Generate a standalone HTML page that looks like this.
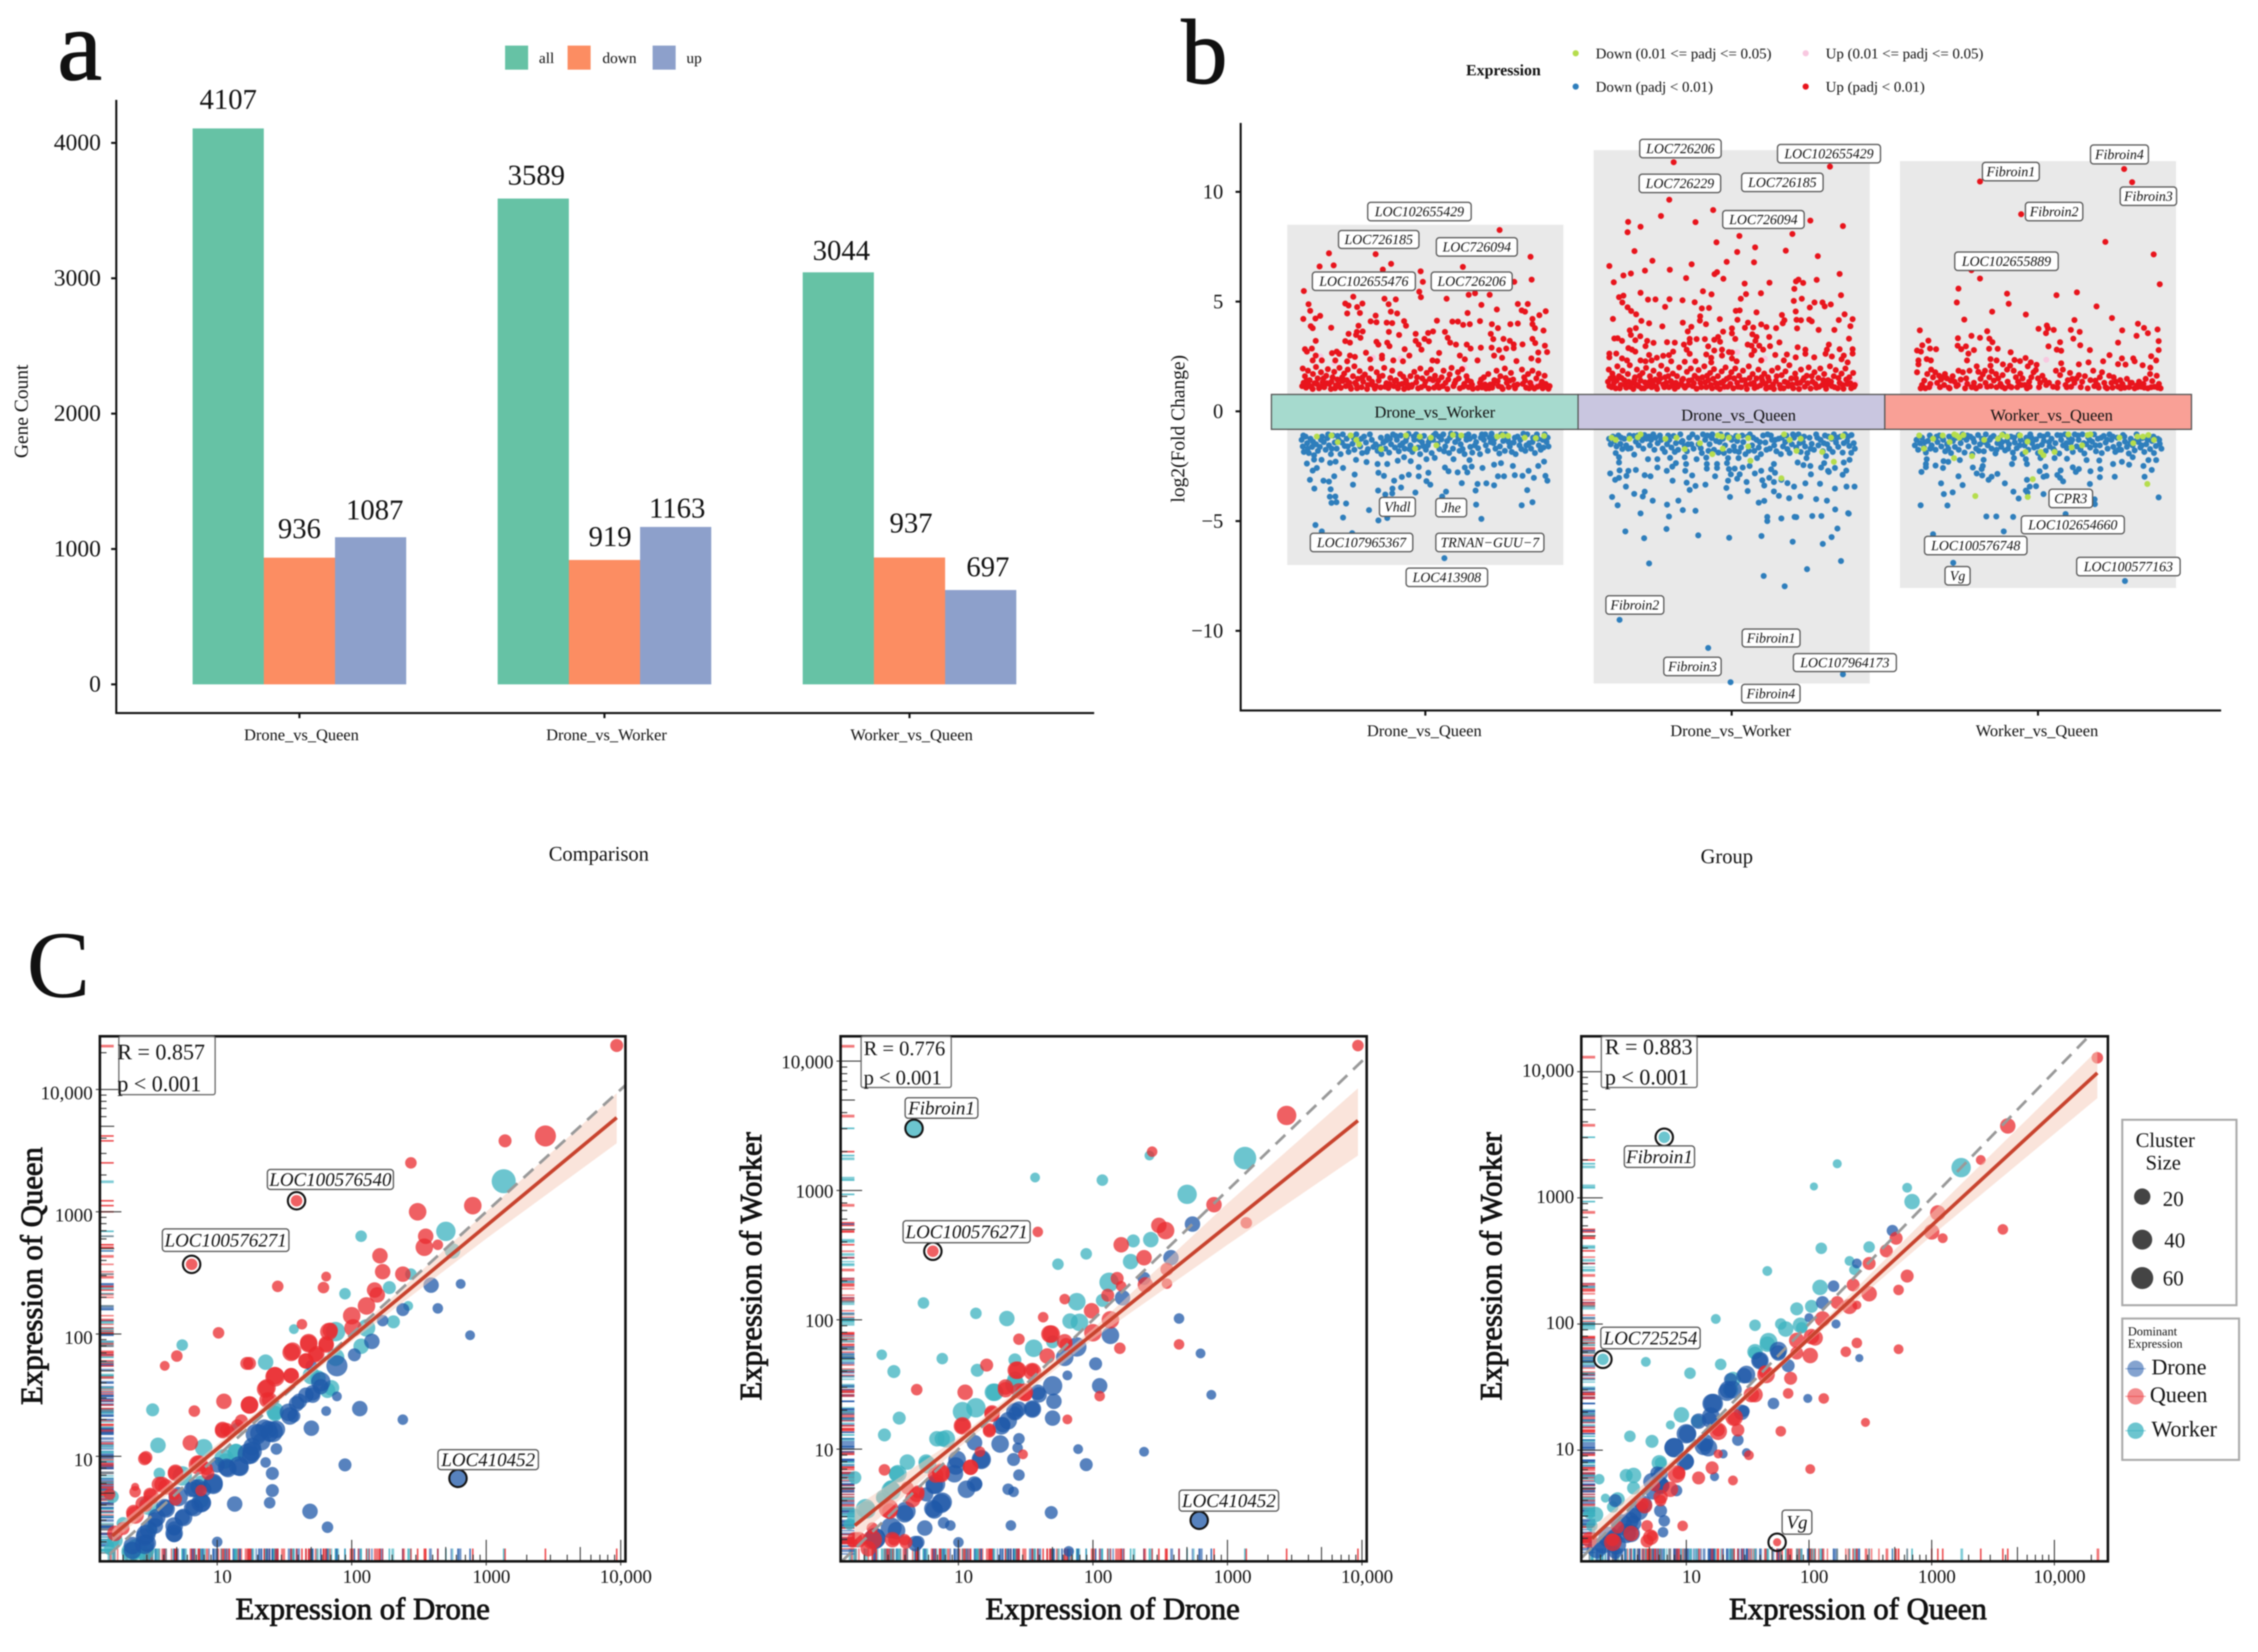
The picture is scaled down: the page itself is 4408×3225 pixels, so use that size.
<!DOCTYPE html>
<html lang="en">
<head>
<meta charset="utf-8">
<title>Differential expression figure</title>
<style>
html,body{margin:0;padding:0;background:#fff}
svg{display:block;font-family:"Liberation Serif",serif;fill:#111;filter:blur(1.2px)}
text{fill:#111}
</style>
</head>
<body>
<svg id="fig" xmlns="http://www.w3.org/2000/svg" width="4408" height="3225" viewBox="0 0 4408 3225">
<rect x="0" y="0" width="4408" height="3225" fill="#fff"/>
<text x="112" y="155" font-size="196" stroke="#111" stroke-width="2">a</text>
<text x="2306" y="162" font-size="180" stroke="#111" stroke-width="2">b</text>
<text x="52" y="1946" font-size="186">C</text>

<g id="panelA">
<line x1="227" y1="195" x2="227" y2="1392" stroke="#111" stroke-width="4"/>
<line x1="225" y1="1392" x2="2136" y2="1392" stroke="#111" stroke-width="4"/>
<text transform="translate(54 803) rotate(-90)" text-anchor="middle" font-size="38">Gene Count</text>
<text x="1169" y="1680" text-anchor="middle" font-size="40">Comparison</text>
<g>
<rect x="986" y="89" width="45" height="47" fill="#66c2a5"/>
<text x="1052" y="123" font-size="30">all</text>
<rect x="1108" y="89" width="45" height="47" fill="#fc8d62"/>
<text x="1176" y="123" font-size="30">down</text>
<rect x="1274" y="89" width="45" height="47" fill="#8da0cb"/>
<text x="1340" y="123" font-size="30">up</text>
</g>
</g>

<g id="panelB">
<text transform="translate(2312 837) rotate(-90)" text-anchor="middle" font-size="38">log2(Fold Change)</text>
<text x="3371" y="1685" text-anchor="middle" font-size="40">Group</text>
<g>
<text x="2862" y="147" font-size="31" font-weight="bold">Expression</text>
<circle cx="3076" cy="104" r="6" fill="#b5dd4d"/>
<text x="3115" y="114" font-size="29">Down (0.01 &lt;= padj &lt;= 0.05)</text>
<circle cx="3525" cy="104" r="6" fill="#f8c8e0"/>
<text x="3564" y="114" font-size="29">Up (0.01 &lt;= padj &lt;= 0.05)</text>
<circle cx="3076" cy="169" r="6" fill="#2e7ebc"/>
<text x="3115" y="179" font-size="29">Down (padj &lt; 0.01)</text>
<circle cx="3525" cy="169" r="6" fill="#e8141c"/>
<text x="3564" y="179" font-size="29">Up (padj &lt; 0.01)</text>
</g>
</g>

<g id="panelC">
<text x="708" y="3161" text-anchor="middle" font-size="60" stroke="#111" stroke-width="1.6">Expression of Drone</text>
<text transform="translate(82 2491) rotate(-90)" text-anchor="middle" font-size="60" stroke="#111" stroke-width="1.6">Expression of Queen</text>
<text x="2172" y="3161" text-anchor="middle" font-size="60" stroke="#111" stroke-width="1.6">Expression of Drone</text>
<text transform="translate(1486 2472) rotate(-90)" text-anchor="middle" font-size="60" stroke="#111" stroke-width="1.6">Expression of Worker</text>
<text x="3627" y="3161" text-anchor="middle" font-size="60" stroke="#111" stroke-width="1.6">Expression of Queen</text>
<text transform="translate(2931 2472) rotate(-90)" text-anchor="middle" font-size="60" stroke="#111" stroke-width="1.6">Expression of Worker</text>
<g>
<rect x="4143" y="2186" width="223" height="362" fill="#fff" stroke="#aaa" stroke-width="4"/>
<text x="4227" y="2239" text-anchor="middle" font-size="40">Cluster</text>
<text x="4223" y="2283" text-anchor="middle" font-size="40">Size</text>
<circle cx="4182" cy="2336" r="16" fill="#444"/>
<text x="4222" y="2354" font-size="41">20</text>
<circle cx="4182" cy="2420" r="19.5" fill="#444"/>
<text x="4225" y="2435" font-size="41">40</text>
<circle cx="4182" cy="2495" r="21.5" fill="#444"/>
<text x="4222" y="2509" font-size="41">60</text>
</g>
<g>
<rect x="4143" y="2574" width="228" height="276" fill="#fff" stroke="#aaa" stroke-width="4"/>
<text x="4154" y="2607" font-size="24">Dominant</text>
<text x="4154" y="2631" font-size="24">Expression</text>
<line x1="4149" y1="2672" x2="4189" y2="2672" stroke="#1f58a8" stroke-opacity=".5" stroke-width="2"/>
<circle cx="4169" cy="2672" r="16" fill="#1f58a8" fill-opacity=".55"/>
<text x="4200" y="2683" font-size="43">Drone</text>
<line x1="4149" y1="2726" x2="4189" y2="2726" stroke="#e92b2f" stroke-opacity=".5" stroke-width="2"/>
<circle cx="4169" cy="2726" r="16" fill="#e92b2f" fill-opacity=".55"/>
<text x="4197" y="2737" font-size="43">Queen</text>
<line x1="4149" y1="2793" x2="4189" y2="2793" stroke="#3bb1bf" stroke-opacity=".6" stroke-width="2"/>
<circle cx="4169" cy="2793" r="16" fill="#3bb1bf" fill-opacity=".75"/>
<text x="4200" y="2804" font-size="43">Worker</text>
</g>
</g>
</svg>

<script>
/* ---------- panel a data ---------- */
const barCategories = ['Drone_vs_Queen','Drone_vs_Worker','Worker_vs_Queen'];
const barAll  = [4107,3589,3044];
const barDown = [936,919,937];
const barUp   = [1087,1163,697];
const barTicks = [0,1000,2000,3000,4000];

/* ---------- panel b data: flat pairs of jitter-percent, log2 fold change ---------- */
const volcanoTicks = [-10,-5,0,5,10];
const volcanoCategories = ['Drone_vs_Queen','Drone_vs_Worker','Worker_vs_Queen'];
const stripLabels = ['Drone_vs_Worker','Drone_vs_Queen','Worker_vs_Queen'];
const groupMax = [8.5,11.9,11.4];
const groupMin = [-7,-12.4,-8.05];

const g1Up = [76.9,8.26,15.1,7.2,32,7.16,88.1,7.04,11.7,6.6,16.8,6.65,37.6,6.72,34.6,6.46,48.3,6.38,63.6,6.58,49.1,5.9,82.2,5.9,88.5,6,6,5.48,47.8,5.45,48.4,5.2,23.9,5.22,65.7,5.31,68,5.38,73.3,5.31,57.7,5.13,35.2,5.13,39.3,5.1,7.7,4.88,21,4.91,22.2,4.82,27.2,4.91,25.3,4.75,36.7,4.88,70.3,4.85,83.5,4.89,87.1,4.89,8.3,4.58,21.7,4.46,26.3,4.48,37.5,4.54,39.8,4.46,75.9,4.64,65.3,4.48,84.9,4.6,86.1,4.54,93.6,4.56,91.3,4.38,5.8,4.21,10.2,4.23,11.9,4.35,32,4.36,30.2,4.1,32.3,4.06,36,4.04,38,4.02,42.3,4.11,43,3.9,54.2,4.13,59.8,4.09,61.8,4.09,63.7,3.94,66.1,3.97,69.8,4.11,74.1,3.97,80.8,3.97,83.5,4,88.8,4.21,88.8,3.97,8.5,3.88,9.2,3.79,15.9,3.81,25.8,3.9,76.3,3.79,89.7,3.79,92.8,3.68,25.2,3.62,27.3,3.64,36.8,3.62,52.8,3.64,51,3.57,57.1,3.62,22.2,3.53,24.9,3.48,40.5,3.48,46.5,3.53,73.7,3.53,26.5,3.35,58.1,3.35,49.7,3.3,74.6,3.29,78.3,3.3,88.8,3.3,10.3,3.21,21,3.2,22.7,3.13,46.5,3.21,51.3,3.19,80.6,3.21,32.3,3.17,33,3.04,36.2,3.13,37,2.97,59,3.13,61.1,3.04,89.8,3.11,47.6,3.04,65,3.04,85.2,3.05,82,3.05,93.3,2.99,6.4,2.83,8.9,2.86,42.5,2.83,48.6,2.81,70.1,2.9,74,2.9,76.7,2.79,79.3,2.86,82,2.88,66.4,2.86,7.1,2.72,17.9,2.72,10.3,2.54,9.2,2.32,12.5,2.32,16.2,2.65,18.8,2.62,17.4,2.32,22.7,2.54,21.7,2.28,24.5,2.48,28.5,2.67,30,2.37,34.3,2.54,34.3,2.41,38.4,2.32,41.9,2.28,44.2,2.54,52.6,2.32,54.3,2.29,55,2.66,62.5,2.54,64.3,2.37,68.9,2.32,74.9,2.54,77.8,2.44,83,2.29,88.4,2.41,90.9,2.68,94.1,2.7,90.9,2.32,
5.6,1.95,6.4,1.6,5.9,1.3,6.8,1.08,7.5,1.85,8.1,1.42,8.6,1.12,9.3,1.7,9.9,1.28,10.4,2.02,11,1.5,11.5,1.05,12.2,1.78,12.8,1.33,13.4,1.1,14.1,1.62,14.7,1.92,15.2,1.25,15.8,1.02,16.4,1.55,17,1.8,17.6,1.18,18.1,1.45,18.9,1.98,19.4,1.07,20,1.38,20.6,1.72,21.2,1.15,21.9,1.9,22.5,1.3,23.1,1.03,23.8,1.6,24.3,2.05,25,1.22,25.6,1.48,26.2,1.83,26.9,1.1,27.5,1.35,28.1,1.68,28.9,1.02,29.6,1.5,30.3,1.95,31,1.2,31.7,1.04,32.4,1.78,33.1,1.4,33.8,1.09,34.5,1.62,35.1,1.98,35.9,1.28,36.6,1.06,37.3,1.52,38,1.85,38.6,1.15,39.4,1.42,40.1,1.05,40.9,1.7,41.6,1.25,42.3,1.02,43,1.4,43.9,1.08,44.6,1.6,45.2,1.2,46,1.8,46.7,1.32,47.4,1.05,48.2,1.95,48.9,1.5,49.7,1.18,50.5,1.75,51.2,1.04,52,1.9,52.8,1.42,53.5,1.62,54.3,1.2,55,1.08,55.9,1.55,56.6,1.85,57.3,1.3,58,1.02,58.8,1.68,59.5,1.98,60.2,1.15,61,1.4,61.8,1.78,62.5,1.05,63.3,1.92,64.1,1.25,64.9,1.6,65.7,1.1,66.5,1.35,67.2,1.03,69,1.06,69.8,1.3,70.5,1.09,71.2,1.55,72,1.04,72.8,1.7,73.5,1.22,74.2,1.08,75,1.42,75.8,1.85,76.5,1.15,77.2,1.6,78,1.02,78.8,1.95,79.5,1.3,80.2,1.1,81,1.75,81.8,1.45,82.5,1.05,83.3,1.22,85,1.9,85.8,1.55,86.5,1.08,87.2,1.7,88,1.3,88.8,1.85,89.5,1.04,90.2,1.5,91,1.72,91.8,1.2,92.5,1.05,93.2,1.62,94,1.12,94.6,1.03,
5.4,1.15,7,1.4,7.8,1.2,9.2,1.02,10.7,1.25,12,1.12,13.1,1.5,14.4,1.28,16,1.35,17.3,1.05,18.5,1.22,19.9,1.55,21.5,1.42,22.8,1.12,24.6,1.3,25.3,1.05,27.2,1.55,29.2,1.2,30.7,1.35,32.1,1.15,33.4,1.58,35.4,1.12,37,1.25,38.9,1.38,40.5,1.22,42,1.58,43.5,1.22,45,1.12,47,1.55,48.5,1.1,50,1.35,51.6,1.48,53.2,1.08,54.7,1.4,56.3,1.15,58.3,1.45,60.6,1.28,62.1,1.5,63.7,1.12,65.3,1.42,66.9,1.22,70.2,1.45,71.6,1.22,73.1,1.05,74.6,1.25,76.2,1.38,77.6,1.1,79.1,1.52,80.6,1.4,82.2,1.18,85.3,1.25,86.1,1.4,87.6,1.05,88.4,1.15,90.6,1.12,92.2,1.35,93.6,1.25,95,1.15];
const g1UpWeak = [7,1.2,10,1.3,12,2.5,14,1.4,17,2.2,19,1.1,23,1.5,25.5,1.15,28,1.6,31,2.45,33,1.1,36,1.3,39,1.2,41,2.4,43,1.1,46,1.25,49,1.1,52,1.35,55,1.2,58,1.1,61,1.3,64,2,66,1.2,68,1.1,71,1.35,74,1.2,77,1.15,80,1.1,84,1.25,87,1.15,90,1.3,93,1.2];
const g1Down = [7.1,-2.38,9.7,-2.2,12.4,-2.21,15.5,-2.35,17.5,-2.29,20.2,-2.58,10.7,-2.58,9.2,-2.7,24.9,-2.21,28.7,-2.31,32.7,-2.4,36.2,-2.4,40,-2.25,42.3,-2.09,44.7,-2.27,47.6,-2.54,50.4,-2.18,53.4,-2.12,57.1,-2.56,60.2,-2.18,66,-2.22,64.3,-2.56,66.8,-2.52,70.7,-2.58,74.9,-2.43,77.4,-2.36,81.7,-2.49,87.4,-2.71,90.9,-2.49,93,-2.29,8.2,-3.12,13.1,-3.16,15.1,-3.2,17,-2.96,24.4,-2.88,23.8,-3.34,33,-2.8,35,-2.94,41.5,-2.99,44,-2.89,47.6,-2.96,51.1,-2.8,50.4,-3.18,51.8,-3.34,58.4,-2.73,61.7,-2.78,65.2,-2.78,63.2,-3.27,68.9,-3.31,72.1,-3.28,74.9,-3.37,76.3,-2.96,78.5,-2.96,82.4,-2.91,85.2,-2.94,89.3,-3.03,93.5,-2.94,94.2,-3.16,9.8,-3.52,15.7,-3.55,15.4,-3.89,17.4,-3.88,16,-4.17,17.8,-4.14,21.3,-4.2,29.6,-4.5,20.2,-4.84,32.9,-3.61,38.7,-3.16,41.2,-3.47,38.1,-3.52,35.5,-3.79,38,-3.74,46.4,-3.7,56.1,-3.88,57.5,-3.66,68.2,-3.61,86.9,-3.59,88.8,-4.14,84.9,-4.28,68.4,-4.25,70.3,-4.9,33,-4.97,36.2,-4.86,10.2,-5.18,12.5,-5.47,23.5,-5.55,56.9,-6.69,
5.2,-1.3,5.6,-1.6,6,-1.85,6.6,-1.15,7.2,-1.45,7.8,-1.9,8.4,-1.25,9,-1.62,9.7,-2,10.4,-1.5,11.1,-1.8,11.8,-1.62,12.6,-1.15,13.2,-1.4,13.9,-1.75,14.5,-1.22,15.1,-1.55,15.8,-1.95,16.5,-1.1,17.2,-1.42,17.9,-1.7,18.6,-1.3,19.3,-1.95,20.1,-1.05,20.8,-1.58,21.5,-1.25,22.2,-1.85,22.9,-1.1,23.6,-1.48,24.3,-1.75,25,-1.05,25.7,-1.35,26.4,-1.6,27.1,-1.9,27.8,-1.15,28.5,-1.42,29.2,-1.72,29.9,-1.05,30.6,-1.3,32,-1.5,32.7,-1.8,33.4,-1.62,34.1,-1.95,34.8,-1.42,35.5,-1.7,36.2,-1.15,36.9,-1.88,37.6,-1.5,38.3,-1.05,39,-1.65,39.7,-1.3,40.4,-1.82,41.1,-1.1,41.8,-1.45,42.5,-1.7,43.2,-1.2,43.9,-1.03,44.6,-1.55,45.3,-1.85,46,-1.3,46.7,-1.05,47.4,-1.65,48.1,-1.95,48.8,-1.4,49.5,-1.12,50.2,-1.75,50.9,-1.55,51.6,-1.25,52.3,-1.9,53,-1.1,53.7,-1.02,54.4,-1.48,55.1,-1.72,55.8,-1.28,56.5,-1.05,57.2,-1.6,57.9,-1.35,58.6,-1.9,59.3,-1.02,60,-1.7,61,-1.05,62,-1.25,62.8,-1.5,63.5,-1.72,64.2,-1.95,64.9,-1.3,65.6,-1.05,66.3,-1.62,67,-1.88,67.7,-1.15,68.4,-1.4,69.1,-1.68,69.8,-1.95,70.5,-1.05,71.2,-1.3,71.9,-1.55,72.6,-1.8,73.3,-1.2,74,-1.02,74.7,-1.45,75.4,-1.7,76.1,-1.15,76.8,-1.92,77.5,-1.05,78.2,-1.35,79,-1.05,79.8,-1.25,80.6,-1.6,81.3,-1.85,82,-1.42,82.7,-1.95,83.4,-1.15,84.1,-1.55,84.8,-1.72,85.5,-1.02,86.2,-1.8,86.9,-1.05,87.6,-1.45,88.3,-1.7,89,-1.2,89.7,-1.9,90.4,-1.05,91.1,-1.55,91.8,-1.75,92.5,-1.3,93.2,-1.05,93.9,-1.4,94.6,-1.6,
5.8,-1.1,7.4,-1.7,9.3,-1.38,12.2,-1.3,14.8,-1.05,16.1,-1.7,18.2,-1.12,19.8,-1.42,21.9,-1.6,24.1,-1.22,26.8,-1.25,28.8,-1.85,31.2,-1.62,33.9,-1.2,35.9,-1.32,37.2,-1.25,39.3,-1.12,40.9,-1.55,42.9,-1.35,44.2,-1.72,45.8,-1.15,47.9,-1.3,49.2,-1.58,51.2,-1.4,52.8,-1.3,54.9,-1.15,56.8,-1.82,58.9,-1.2,60.8,-1.4,62.4,-1.8,64.6,-1.12,66.1,-1.25,67.9,-1.55,70.1,-1.2,71.7,-1.05,73.7,-1.4,75.1,-1.25,77,-1.6,78.8,-1.8,80.2,-1.4,82.4,-1.2,84.4,-1.3,86.6,-1.55,88.8,-1.4,90.8,-1.25,92.8,-1.65,94.3,-1.2];
const g1DownWeak = [10.7,-1.15,16,-1.1,18.3,-1.4,23,-1.1,26,-1.5,25,-1.3,34,-1.72,43,-1.1,46.3,-1.7,48,-1.15,52,-1.2,54,-1.55,60,-1.08,63,-1.1,76,-1.15,78,-1.1,80,-1.12,86,-1.2,90,-1.22,93,-1.12];

const g2Up = [29,11.35,85.6,11.15,27.4,9.64,43.3,9.17,24.4,8.9,12.5,8.63,17,8.41,12.3,8.16,36.9,8.62,78.5,8.69,90.3,8.44,52.8,7.99,72,8.08,44.5,7.7,58.5,7.47,14.8,7.3,52,7.26,69.6,7.32,81.2,7.07,21.3,6.86,48.2,6.81,58.1,6.79,35.5,6.7,5.7,6.62,27.6,6.45,18.6,6.41,13.5,6.28,10.8,6.19,89.1,6.26,44.7,6.34,43.8,6.25,33.5,6.07,47,6.04,80.8,5.99,74.2,6,73.3,5.92,75.9,5.85,7.3,5.88,54.7,5.82,63.7,5.86,72.7,5.58,17,5.4,39.6,5.47,55.2,5.34,60.6,5.38,42.7,5.33,89.6,5.29,9.2,5.2,10.8,5.27,53.3,5.13,19.7,5.09,22.4,5.1,27.5,5.11,32.2,5.06,36.6,4.97,72.5,5.03,75.4,5.13,10.4,4.96,80,4.96,82.9,4.96,83.7,4.78,85.9,4.87,78.3,4.73,12.3,4.74,25.9,4.76,39.2,4.69,41.8,4.71,13.6,4.57,15.4,4.42,51.5,4.58,52.9,4.6,59,4.51,73.2,4.55,38.6,4.33,38.5,4.13,68.2,4.39,90.9,4.42,7,4.21,45.7,4.2,52.1,4.17,73.5,4.17,75.1,4.15,78.1,4.18,79,4.1,88.8,4.16,93.8,4.2,17.3,4.12,20.1,4.01,32.3,4.04,40.7,3.97,55.9,4.04,69.1,4.15,68.5,4.01,60.7,3.96,24.9,3.87,35.4,3.85,15.3,3.79,62.6,3.84,57.8,3.82,54.8,3.81,50.1,3.78,66.1,3.79,73.7,3.78,93,3.88,81.5,3.71,87.2,3.71,34.1,3.64,13.1,3.69,13.5,3.48,46.9,3.63,50.1,3.55,57.5,3.51,16.9,3.42,7.5,3.32,8.7,3.33,10.3,3.21,15.1,3.24,19.4,3.21,37.3,3.29,34.8,3.3,40.3,3.29,45.1,3.39,51.3,3.3,59,3.39,63.6,3.39,67.3,3.14,92.5,3.31,21.7,3.12,26.6,3.15,29.4,3.13,34.8,3.13,43.7,3.26,45.8,3.17,58.6,3.21,18.8,2.97,32.7,3.04,41.5,2.96,55.8,3.04,57.2,2.99,60,2.99,63.9,2.97,73.9,2.92,85.2,3.04,12.6,2.88,13.9,2.81,15.1,2.72,5.7,2.63,8.2,2.63,28.8,2.72,33.7,2.81,43.7,2.77,46.5,2.81,49,2.7,50.1,2.68,58.2,2.77,61.4,2.81,76.7,2.81,84.5,2.81,89.1,2.83,93.8,2.83,93.8,2.63,5.7,2.46,20.1,2.57,22.9,2.44,25.2,2.53,27.3,2.56,34.8,2.62,40.8,2.59,42.6,2.44,46.5,2.54,57.2,2.57,65.8,2.57,70,2.59,73.2,2.46,76.7,2.62,79.9,2.46,84,2.62,86.3,2.5,90.6,2.54,10.3,2.41,12.1,2.32,17,2.32,18.8,2.28,21,2.32,28.1,2.28,33,2.26,36.9,2.28,42.6,2.23,50.1,2.41,51.8,2.28,60.7,2.32,68.9,2.32,89.8,2.37,92,2.23,
5.5,1.9,6.1,1.5,5.7,1.15,6.8,1.72,7.4,1.3,8,1.05,8.6,2.05,9.2,1.6,9.8,1.2,10.5,1.85,11.1,1.42,11.8,1.08,12.4,1.7,13.1,2.1,13.8,1.28,14.4,1.02,15,1.55,15.7,1.9,16.3,1.15,17,1.4,17.7,1.75,18.3,1.05,19,1.98,19.7,1.3,20.4,1.6,21,1.1,21.7,1.85,22.4,1.45,23,1.02,23.8,1.68,24.5,2.08,25.2,1.22,25.9,1.55,26.6,1.9,27.3,1.1,28,1.38,28.7,1.72,29.4,1.03,30.2,1.6,31,2,31.7,1.25,32.4,1.48,33.1,1.08,33.8,1.8,34.5,1.4,35.2,1.95,35.9,1.15,36.6,1.62,37.3,1.03,38,1.88,38.7,1.3,39.4,1.55,40.1,2.05,40.8,1.1,41.5,1.42,42.2,1.75,42.9,1.05,43.6,1.92,44.3,1.28,45,1.6,45.7,1.02,46.4,1.82,47.1,1.38,47.8,2,48.5,1.12,49.2,1.55,49.9,1.78,50.6,1.05,51.3,1.95,52,1.3,52.7,1.62,53.4,1.1,54.1,1.85,54.8,1.42,55.5,1.02,56.2,2.05,56.9,1.25,57.6,1.7,58.3,1.06,59,1.5,59.7,1.9,60.4,1.18,61.1,1.4,61.8,1.72,62.5,1.04,63.2,1.55,63.9,1.1,64.6,1.85,65.3,1.02,66,1.38,66.7,1.98,67.4,1.2,68.1,1.65,68.8,1.05,69.5,1.82,70.2,1.3,70.9,2.1,71.6,1.5,72.3,1.05,73,1.72,73.7,1.28,74.4,1.02,75.1,1.9,75.8,1.42,76.5,1.12,77.2,1.62,77.9,2,78.6,1.04,79.3,1.35,80,1.78,80.7,1.08,81.4,1.52,82.1,1.95,82.8,1.2,83.5,1.7,84.2,1.03,84.9,1.42,85.6,2.05,86.3,1.15,87,1.6,87.7,1.88,88.4,1.05,89.1,1.3,89.8,1.72,90.5,1.03,91.2,1.95,91.9,1.25,92.6,1.55,93.3,1.05,94,1.75,94.6,1.2,
5.2,1.35,6.5,1.1,7.1,1.55,8.3,1.4,9.5,1.05,10.1,1.52,11.4,1.2,12.7,1.35,13.3,1.12,14.8,1.45,15.4,1.22,16.7,1.62,17.4,1.05,18.6,1.32,19.3,1.15,20.7,1.42,21.4,1.25,22.7,1.12,23.5,1.35,24.2,1.5,25.6,1.1,26.3,1.3,27,1.6,28.4,1.18,29.8,1.3,30.5,1.12,32,1.42,32.7,1.15,34.2,1.2,35.5,1.42,36.3,1.28,37.7,1.5,39,1.1,40.4,1.32,41.1,1.62,42.5,1.2,43.3,1.48,44.7,1.1,46,1.3,47.4,1.12,48.2,1.48,49.5,1.25,50.9,1.5,52.3,1.12,53.7,1.42,55.2,1.22,56.5,1.52,58,1.3,59.3,1.12,60.8,1.55,62.2,1.25,63.5,1.4,65,1.22,66.3,1.6,67.7,1.05,69.2,1.35,70.5,1.15,71.9,1.22,73.3,1.5,74.8,1.3,76.2,1.52,77.5,1.28,79,1.6,80.3,1.25,81.7,1.12,83.2,1.42,84.5,1.22,86,1.35,87.3,1.1,88.7,1.52,90.2,1.2,91.5,1.45,93,1.28,94.3,1.12];
const g2UpWeak = [6,1.3,8,1.1,11,1.25,13,1.1,15,1.35,17,1.2,19,1.1,21,1.3,23,1.4,25,1.15,27,1.25,29,1.1,31,1.2,33,1.3,35,1.1,38,1.2,41,1.15,44,1.2,47,1.05,50,1.3,53,1.15,56,1.1,59,1.3,62,1.05,65,1.25,68,1.15,72,1.2,76,1.1,79,1.3,83,1.2,87,1.1,90,1.25,93,1.45,95,1.3,52,2.7,62,2.4,36,2.3];
const g2Down = [9.2,-2.09,14.7,-1.97,19.7,-2.18,23.1,-2.18,27.7,-2.12,33,-2.09,37.3,-2.18,40.8,-2.11,48.7,-2.13,52.5,-2.13,59.2,-2.13,77.1,-2.13,84.2,-2.04,93.3,-1.89,92.7,-2.21,90.6,-2.33,9.2,-2.33,23.1,-2.56,29.8,-2.36,28.5,-2.52,33.5,-2.4,41,-2.4,41,-2.61,44.7,-2.4,44.7,-2.58,48.3,-2.36,49,-2.63,51.1,-2.61,54,-2.56,56.5,-2.49,65.3,-2.4,64.3,-2.64,73.9,-2.33,76,-2.45,78.5,-2.49,82.4,-2.56,83.5,-2.36,87.4,-2.58,84.9,-2.71,6,-2.83,9.4,-2.69,12.6,-2.71,15.3,-2.67,11.9,-2.94,18.5,-2.91,20.6,-2.96,7.8,-3.12,9.2,-3.03,26.5,-2.71,33.2,-2.71,35.7,-2.92,44,-2.96,49.7,-2.87,52.9,-2.87,52,-3.07,58.4,-2.83,60.7,-2.71,65.7,-2.8,78.7,-2.87,85.2,-2.76,91.5,-2.7,90.2,-2.89,28.6,-3.16,33.7,-3.25,48.7,-3.16,55.4,-3.22,61.1,-3.14,63.6,-3.03,65.3,-3.22,68,-3.12,70.2,-3.27,72.6,-3.43,76.7,-3.28,82,-3.3,11.7,-3.43,34.8,-3.58,36.9,-3.4,40.5,-3.34,48.1,-3.49,55.8,-3.63,61.8,-3.38,65.3,-3.65,87.4,-3.52,91.6,-3.43,94.5,-3.43,6.7,-3.9,14.7,-3.76,17.8,-3.88,18.5,-3.66,21.4,-4.07,8.7,-4.28,26.6,-4.25,30.7,-4.07,32.3,-4.5,36.9,-4.53,17,-4.65,27.3,-4.79,49.4,-3.9,59.8,-4.16,61.8,-4.08,67.1,-3.85,70.8,-3.96,74.9,-3.88,80.6,-4,84.5,-4.07,87.5,-4.47,92.4,-4.66,62.9,-4.81,68,-4.88,72.8,-4.81,79.2,-4.77,82.5,-4.77,11.5,-5.47,18.3,-5.78,20.1,-6.93,26.4,-5.36,37.9,-5.65,49.1,-5.76,60.8,-5.68,62.9,-5,72.1,-5.94,73.4,-4.82,83,-6.04,86.2,-5.73,88.3,-5.34,92.2,-4.64,89.6,-6.82,77.3,-7.19,61.6,-7.5,69.2,-7.97,9.4,-9.5,41.5,-10.78,49.6,-12.34,90.3,-11.98,
5.6,-1.25,6.2,-1.5,7,-1.15,7.6,-1.35,8.3,-1.6,9,-1.1,9.7,-1.48,10.4,-1.72,11.1,-1.25,11.8,-1.55,12.5,-1.7,13.4,-1.68,14.6,-1.12,15.3,-1.38,16,-1.1,16.8,-1.2,17.6,-1.32,18.4,-1.08,19.2,-1.25,20,-1.15,20.8,-1.3,21.6,-1.05,22.4,-1.2,23.2,-1.45,24,-1.1,25,-1.7,25.8,-1.85,26.6,-1.5,27.4,-1.3,28.2,-1.65,29,-1.12,29.8,-1.45,30.6,-1.75,31.4,-1.05,32.2,-1.35,33,-1.58,33.8,-1.82,34.6,-1.2,35.4,-1.5,36.2,-1.7,38,-1.5,38.8,-1.68,39.6,-1.05,40.4,-1.3,41.2,-1.1,42,-1.5,42.8,-1.22,43.6,-1.75,44.4,-1.35,45.2,-1.88,46,-1.05,46.8,-1.25,47.6,-1.55,48.4,-1.08,49.2,-1.8,50,-1.3,50.8,-1.6,51.6,-1.12,52.6,-1.85,53.4,-1.65,54.2,-1.4,55,-1.95,55.8,-1.15,56.6,-1.05,57.4,-1.55,58.2,-1.8,59,-1.3,59.8,-1.65,60.6,-1.95,61.4,-1.1,62.2,-1.42,63,-1.05,63.8,-1.7,64.6,-1.3,65.4,-1.55,66.2,-1.82,67,-1.25,67.8,-1.95,68.6,-1.6,69.4,-1.4,70.2,-1.72,71,-1.9,71.8,-1.5,72.6,-1.2,73.4,-1.65,74.2,-1.05,75,-1.85,75.8,-1.4,76.6,-1.6,77.4,-1.9,78.2,-1.2,79,-1.48,79.8,-1.75,80.6,-1.05,81.4,-1.55,82.2,-1.3,83,-1.82,83.8,-1.1,84.6,-1.5,85.4,-1.7,86.2,-1.25,87,-1.05,87.8,-1.42,88.6,-1.62,89.4,-1.15,90.2,-1.88,91,-1.05,91.8,-1.35,92.6,-1.58,93.4,-1.08,94.2,-1.45,
8,-1.9,10,-1.2,13,-1.1,16.3,-1.55,18,-1.7,20.4,-1.55,22,-1.75,24.5,-1.3,27,-1.1,29.4,-1.85,31.8,-1.4,34.2,-1.5,35.8,-1.05,37.5,-1.2,39.2,-1.9,41.6,-1.8,43,-1.05,45.6,-1.4,47.2,-1.9,49.6,-1.2,51.2,-1.8,52,-1.35,53.8,-1.1,56.2,-1.8,57.8,-1.2,60.2,-1.4,62.6,-1.75,64.2,-1.1,65.8,-1.3,68.2,-1.2,69.8,-1.1,72.2,-1.05,74.6,-1.45,76.2,-1.15,78.6,-1.7,81,-1.2,83.4,-1.45,85,-1.15,86.6,-1.85,88.2,-1.2,90.6,-1.45,92.2,-1.15,94.6,-1.7];
const g2DownWeak = [6.5,-1.2,8,-1.3,13,-1.25,16,-1.18,17,-1.05,26,-1.25,30,-1.2,33,-1.72,38.5,-1.45,43,-1.95,45,-1.1,46.5,-1.15,46.8,-1.7,49,-1.2,52.4,-1.15,56,-1.22,56.8,-2.25,56,-1.6,69,-1.05,71,-1.3,73.5,-1.8,75,-1.25,82.8,-1.85,86,-1.2,87,-2.3,90.3,-1.12,68,-3.05];

const g3Up = [29,10.47,81.2,11.04,84.1,10.44,43.9,8.98,74.4,7.72,91.9,7.15,29,6.05,25.9,6.43,94.1,5.79,21.2,5.59,20.6,4.96,38.8,5.36,39.4,4.9,56.7,5.29,64.1,5.42,71.2,4.78,33.4,4.54,45.6,4.41,23.3,4.18,63.2,4.16,76.8,4.25,86.2,3.99,53.2,3.91,50.2,3.76,53.6,3.78,55.7,3.71,52.9,3.56,61.9,3.71,65.1,3.62,80.5,3.69,88.4,3.8,89.8,3.56,93.3,3.73,7.2,3.69,31.6,3.65,25.9,3.44,29,3.35,21,3.33,32.4,3.31,62.8,3.31,85.7,3.44,10.3,3.22,33.5,3.15,79,3.13,58,3.15,93.7,3.2,8.1,3.01,20.9,2.99,23.9,2.96,53.8,2.96,65.3,3.01,10.9,2.86,13.1,2.83,22.2,2.83,32.3,2.85,35.4,2.85,56.8,2.81,58.4,2.76,68.8,2.79,93.7,2.79,6.2,2.77,7.6,2.72,26.8,2.79,40.1,2.69,24.8,2.63,75.9,2.56,91,2.51,9.7,2.38,11.2,2.32,6.7,2.32,24.3,2.32,6.7,2.14,32.8,2.38,35,2.32,41.5,2.34,43.5,2.29,45.5,2.43,47.4,2.23,80.4,2.41,84.5,2.41,85,2.28,92.8,2.32,73.6,2.28,68.3,2.23,64.8,2.14,58.4,2.19,49.5,2.12,46.3,2.05,39.9,2.08,37.3,2.14,32.8,2.08,27.8,2.05,79,2.15,81.7,2.13,87.9,2.1,90.7,1.99,
6.2,1.78,7.5,1.05,8.8,1.4,9.9,1.7,10.6,1.1,11.3,1.9,12,1.55,12.8,1.78,13.5,1.3,14.2,1.62,14.9,1.45,15.6,1.55,16.3,1.7,17,1.5,17.7,1.08,18.4,1.4,19.1,1.6,19.8,1.35,20.5,1.15,21.2,1.85,22,1.45,22.8,1.78,23.6,1.05,24.4,1.25,25.2,1.85,26,1.1,26.8,1.3,27.6,1.05,28.4,1.8,29.2,1.48,30,1.68,30.8,1.85,31.6,1.12,32.4,1.55,33.2,1.82,34,1.4,34.8,1.7,35.6,1.5,36.4,1.25,37.2,1.65,38,1.05,38.8,1.9,39.6,1.15,40.4,1.1,41.2,1.85,42,1.55,42.8,1.35,43.6,1.72,44.4,1.5,45.2,1.2,46,1.05,46.8,1.35,47.6,1.55,48.4,1.78,49.2,1.88,50,1.5,50.8,1.3,51.6,1.62,52.4,1.42,54,1.3,55.5,1.12,56.5,1.85,57.2,1.3,58,1.65,59,1.9,60,1.2,60.8,1.42,61.6,1.75,62.4,1.48,63.2,1.3,64,1.5,64.8,1.65,66,1.35,67,1.6,68,1.05,69,1.42,70,1.85,70.8,1.4,71.6,1.2,72.4,1.55,73.2,1.78,74,1.3,75,1.05,75.8,1.62,76.6,1.3,77.4,1.55,78.2,1.35,79,1.12,79.8,1.42,80.6,1.25,81.4,1.08,82.2,1.48,83,1.1,84,1.3,85,1.05,85.8,1.18,86.6,1.35,87.4,1.12,88.2,1.25,89,1.48,89.8,1.05,90.6,1.7,91.4,1.38,92.2,1.12,93,1.62,93.8,1.25,94.4,1.05,
8,1.2,9.2,1.05,11,1.25,14.5,1.1,16,1.2,18,1.05,21,1.2,24,1.5,27,1.1,29,1.15,31,1.3,33,1.15,35,1.1,37,1.12,39,1.35,42.5,1.1,44,1.2,47,1.12,50.4,1.1,53,1.2,57,1.08,60.4,1.1,62,1.12,65.5,1.1,70.4,1.15,72,1.08,74.5,1.1,77,1.08,80,1.05,83.5,1.3,86,1.1,88.5,1.08,91,1.1,93.4,1.08];
const g3UpWeak = [9,1.4,12,1.2,16,1.1,19,1.3,23,1.25,26,1.1,30,1.1,37,1.15,40,1.05,44,1.2,50,1.05,53,2.35,55,1.1,58,1.2,61,1.05,64,1.15,66,1.25,72,1.1,76,1.1,79,1.2,84,1.25,87,1.1,90,1.3];
const g3Down = [9.7,-2.18,15.8,-2.27,17.5,-2.3,21.7,-2.22,30.3,-2.21,41.3,-2.13,45.6,-2.18,50.9,-2.13,56,-2.13,60.5,-2.16,67.6,-2.22,72.2,-2.24,80.4,-2.3,84.3,-2.09,90,-2.22,92.8,-2.22,9.4,-2.4,12.9,-2.47,15.6,-2.58,7.8,-2.76,9.4,-2.54,26.4,-2.56,30,-2.49,29.6,-2.63,40.6,-2.4,46,-2.4,52.7,-2.52,50.6,-2.73,58.2,-2.69,62.6,-2.55,64.8,-2.63,63.7,-2.76,72.6,-2.63,69,-2.73,77.2,-2.4,83,-2.43,88.2,-2.49,91.2,-2.67,21.2,-2.96,27.8,-2.83,29.8,-2.92,35.3,-2.85,33.2,-2.98,32.1,-3.12,46,-3.12,52,-2.98,53.1,-2.94,57,-2.9,58,-3.03,59.1,-3.19,72.4,-3,77.8,-2.98,88.6,-2.98,14.9,-3.28,22.7,-3.36,38,-3.28,47,-3.43,49.3,-3.41,68.8,-3.31,19.1,-3.69,15.9,-3.77,41.1,-3.66,45.6,-3.61,46.2,-3.7,52,-3.77,43,-3.97,93.7,-3.92,7.5,-4.28,17.2,-4.29,70.5,-4.01,70.6,-4.23,31.3,-4.79,34.9,-4.79,41,-4.81,60,-4.68,12,-5.6,19.3,-6.9,37.6,-5.47,81.5,-7.73,
5.4,-1.55,6,-1.3,6.6,-1.75,7.3,-1.45,8,-1.2,8.7,-1.65,9.4,-1.88,10.1,-1.35,10.8,-1.1,11.5,-1.55,12.2,-1.25,12.9,-1.75,13.6,-1.4,14.3,-1.1,15,-1.6,15.7,-1.3,16.4,-1.82,17.1,-1.5,17.8,-1.15,18.5,-1.9,19.2,-1.35,19.9,-1.62,20.6,-1.2,21.3,-1.75,22,-1.45,22.7,-1.05,23.4,-1.88,24.1,-1.3,24.8,-1.6,25.5,-1.15,26.2,-1.95,26.9,-1.4,27.6,-1.7,28.3,-1.08,29,-1.5,29.7,-1.25,30.4,-1.82,31.1,-1.05,31.8,-1.55,32.5,-1.3,33.2,-1.7,33.9,-1.12,34.6,-1.92,35.3,-1.45,36,-1.22,36.7,-1.62,37.4,-1.05,38.1,-1.78,38.8,-1.35,39.5,-1.5,40.2,-1.15,40.9,-1.88,41.6,-1.42,42.3,-1.68,43,-1.08,43.7,-1.3,44.4,-1.95,45.1,-1.55,45.8,-1.2,46.5,-1.75,47.2,-1.05,47.9,-1.45,48.6,-1.65,49.3,-1.28,50,-1.9,50.7,-1.1,51.4,-1.52,52.1,-1.35,52.8,-1.8,53.5,-1.05,54.2,-1.6,54.9,-1.25,55.6,-1.72,56.3,-1.45,57,-1.08,57.7,-1.92,58.4,-1.3,59.1,-1.55,59.8,-1.05,60.5,-1.68,61.2,-1.2,61.9,-1.42,62.6,-1.85,63.3,-1.05,64,-1.6,64.7,-1.3,65.4,-1.75,66.1,-1.05,66.8,-1.92,67.5,-1.5,68.2,-1.18,68.9,-1.65,69.6,-1.38,70.3,-1.05,71,-1.82,71.7,-1.25,72.4,-1.55,73.1,-1.9,73.8,-1.12,74.5,-1.42,75.2,-1.7,75.9,-1.05,76.6,-1.3,77.3,-1.62,78,-1.85,78.7,-1.2,79.4,-1.5,80.1,-1.75,80.8,-1.08,81.5,-1.38,82.2,-1.62,82.9,-1.92,83.6,-1.25,84.3,-1.55,85,-1.78,85.7,-1.05,86.4,-1.4,87.1,-1.65,87.8,-1.22,88.5,-1.85,89.2,-1.5,89.9,-1.12,90.6,-1.72,91.3,-1.35,92,-1.9,92.7,-1.58,93.4,-1.25,94.1,-1.48,94.7,-1.7,
7,-1.1,9,-1.4,11,-1.7,13.3,-1.15,15.4,-1.2,17.5,-1.7,19.5,-1.1,22.3,-1.2,24.4,-1.1,26.5,-1.25,28.6,-1.8,30.8,-1.4,33,-1.2,35,-1.75,37,-1.4,39.2,-1.7,41.3,-1.2,43.4,-1.55,45.5,-1.4,47.6,-1.2,49.8,-1.6,52,-1.15,54,-1.4,56,-1.8,58.2,-1.1,60.3,-1.45,62.4,-1.3,64.5,-1.1,66.6,-1.45,68.7,-1.3,70.8,-1.55,72.9,-1.2,75,-1.3,77.1,-1.15,79.2,-1.75,81.3,-1.15,83.4,-1.45,85.5,-1.35,87.6,-1.55,89.7,-1.3,91.8,-1.15,93.9,-1.3];
const g3DownWeak = [7,-1.1,8.7,-1.7,12,-1.25,15.5,-1.1,18,-1.4,19.7,-1.05,20.5,-1.1,21.5,-1.2,19.6,-2.13,26.1,-2.04,23,-1.08,30.5,-1.3,35.5,-1.25,37,-1.08,38.8,-1.15,43.5,-1.1,46.2,-1.38,45.5,-1.85,51,-1.85,52,-2,56,-1.85,61,-1.05,62.2,-1.65,66,-1.55,68,-1.08,69,-1.05,79.5,-1.2,84.5,-1.45,86,-1.15,88,-1.15,90,-1.08,92,-1.3,27.3,-3.86,46.3,-3.9,48.1,-3.09,89.6,-3.31];

/* ---------- panel c data: triples of log10 expression x, log10 expression y, cluster size ---------- */
const p1Queen = [[3.97,4.36,20],[3.44,3.62,60],[3.14,3.58,20],[2.44,3.4,15],[2.9,3.05,40],[2.49,3,40],[2.55,2.8,30],[2.54,2.71,40],[2.64,2.73,12],[1.59,3.09,15],[.81,2.57,15],[2.21,2.64,30],[2.23,2.51,30],[2.38,2.49,30],[1.81,2.47,10],[1.79,2.38,15],[1.45,2.39,15],[2.17,2.36,30],[2.19,2.32,30],[2.11,2.23,40],[2,2.15,40],[2.01,2.05,40],[1.83,2.02,40],[1.63,2.08,12],[1.01,2.01,15],[.7,1.82,15],[.61,1.74,10],[1.68,1.93,40],[1.81,1.91,30],[1.55,1.85,40],[1.73,1.83,30],[1.66,1.78,30],[1.22,1.76,20],[1.24,1.76,20],[1.43,1.65,50],[1.55,1.66,30],[1.36,1.55,40],[1.24,1.42,40],[1.37,1.46,30],[1.05,1.45,30],[.83,1.37,15],[.8,1.11,30],[1.04,1.21,30],[1.15,1.25,20],[1.09,1.2,15],[.46,.98,20],[.47,.99,20],[.39,.71,15],[.39,.75,6],[.59,.77,30],[.69,.86,30],[.86,.93,50],[.51,.67,30],[.68,.69,15],[.39,.52,40],[.2,.69,15],[.3,.41,20],[.47,.6,20],[.93,.86,20],[.88,.72,15],
[1.43,1.66,40],[1.55,1.66,30],[1.37,1.56,40],[1.24,1.42,40],[1.39,1.46,30],[1.68,1.92,40],[1.56,1.86,40],[1.81,1.92,30],[1.74,1.84,30],[1.66,1.78,30],[1.84,2.03,30],[.69,.65,20],[.57,.77,30],[.5,.69,20],[.38,.54,30],[.45,.61,30],[.69,.87,30],[.86,.94,30],[.92,.9,20],[1.04,1.22,30],[1.07,1.22,20],[1.18,1.29,20],[.24,.37,30],[.62,.75,30]];
const p1Worker = [[3.13,3.25,80],[2.7,2.84,50],[2.75,2.68,30],[2.07,2.8,15],[2.44,2.49,15],[2.28,2.38,20],[1.95,2.33,15],[2.42,2.23,10],[2.31,2.1,20],[1.88,2.02,50],[1.57,2.04,10],[2.11,2.05,40],[2.07,1.9,30],[.74,1.91,15],[1.36,1.77,30],[1.7,1.66,40],[1.82,1.54,30],[1.88,1.81,40],[1.43,1.37,40],[.52,1.38,20],[.56,1.09,30],[.9,1.07,40],[1.14,1.03,40],[1.05,.98,50],[.22,.67,20],[.74,.84,50],[.88,.79,20],[.57,.86,15],[.49,.6,50],[.3,.45,20],[.23,.31,15],[.4,.24,60],[.51,.41,15],[.2,.24,15],[1.15,1.23,15],
[1.14,1.04,30],[1.06,.96,30],[.88,.64,30],[1.43,1.35,30],[1.75,1.64,30],[1.85,1.56,30],[.46,.23,50],[.36,.22,50],[.24,.31,30]];
const p1Drone = [[2.81,2.41,10],[2.59,2.4,30],[2.64,2.21,12],[2.38,2.2,20],[2.88,1.99,10],[2.23,2.11,15],[2.15,1.94,30],[2.02,1.83,20],[1.89,1.74,60],[1.7,1.74,15],[1.77,1.61,50],[1.71,1.5,30],[1.89,1.49,10],[1.81,1.37,10],[2.06,1.39,30],[2.38,1.3,12],[1.7,1.23,30],[1.61,1.45,30],[1.54,1.33,40],[1.29,1.18,60],[1.41,1.2,60],[1.35,1.23,40],[1.44,1.06,15],[1.26,1.04,50],[1.25,1.01,40],[1.17,.91,40],[1.07,.91,40],[1.36,.95,12],[1.41,.86,20],[1.95,.93,20],[.97,.77,50],[.83,.74,40],[.88,.62,50],[.81,.58,30],[1.41,.72,20],[1.39,.62,15],[1.13,.61,30],[1.69,.55,30],[1.82,.42,15],[1,.3,12],[.74,.5,30],[.68,.43,40],[.68,.36,30],[.54,.48,30],[.47,.36,50],[.46,.28,50],[.37,.23,40],[.61,.58,40],[.71,.67,50],[2.79,.82,30],
[1.31,1.19,40],[1.38,1.22,40],[1.44,1.22,40],[1.39,1.19,40],[1.26,1.08,40],[1.33,1.12,40],[1.23,1.02,60],[1.16,.92,50],[1.08,.9,40],[1,.93,30],[.97,.78,50],[.9,.73,30],[.81,.73,30],[.86,.75,30],[.89,.62,40],[.83,.58,40],[.75,.5,40],[.68,.37,40],[.68,.41,25],[.55,.5,40],[.62,.57,40],[.54,.43,30],[.49,.4,40],[.46,.34,40],[.48,.29,40],[.37,.27,40],[1.59,1.43,30],[1.53,1.36,40],[1.66,1.5,30],[1.71,1.52,30],[1.77,1.57,30],[1.57,1.33,20]];
const p1Rings = [[.81,2.57],[1.59,3.09],[2.79,.82]];
const p1FitX = [.22,3.97];
const p1FitY = [.35,3.77];
const p1BandX = [.22,1,2,3,3.97];
const p1BandHigh = [.4,1.1,2,3,3.97];
const p1BandLow = [.3,1.03,1.94,2.78,3.56];

const p2Queen = [[3.97,4.12,15],[3.44,3.58,50],[2.44,3.3,12],[2.9,2.89,30],[1.59,2.68,12],[.81,2.53,15],[3.14,2.75,15],[2.49,2.73,30],[2.54,2.69,40],[2.21,2.58,30],[2.38,2.48,30],[2.55,2.39,20],[2.55,2.28,12],[2.18,2.32,20],[2.21,2.26,12],[2.39,2.27,30],[2.11,2.19,20],[1.79,2.16,12],[1.99,2.07,30],[2.13,2,40],[1.63,2.02,12],[1.69,1.89,40],[2,1.9,40],[1.45,1.85,15],[1.8,1.81,20],[2.2,1.78,15],[2.64,1.81,12],[1.66,1.72,30],[1.21,1.65,20],[1.44,1.61,40],[1.55,1.61,20],[.69,1.46,15],[1.05,1.44,30],[1.35,1.46,30],[1.45,1.45,30],[1.49,1.44,40],[2.05,1.41,12],[1.25,1.28,30],[1.03,1.18,30],[1.81,1.23,10],[1.23,1.15,20],[1.16,.98,12],[1.48,.96,10],[1.09,.86,30],[.87,.81,40],[.45,.84,15],[.69,.65,30],[.48,.54,50],[.62,.7,20],[.36,.39,15],[.26,.3,30],[.52,.3,15],[.6,.3,15],[.33,.23,30],[.21,.28,12],
[1.43,1.61,40],[1.55,1.6,40],[1.35,1.48,30],[1.25,1.27,30],[1.23,1.14,20],[1.03,1.18,40],[.87,.82,40],[.83,.8,30],[.66,.61,30],[.7,.67,20],[.49,.52,30],[.36,.3,50],[.23,.3,30],[.51,.3,30],[.61,.28,20],[1.09,.86,30],[1.5,1.42,20],[1.68,1.89,40],[1.79,1.83,30]];
const p2Worker = [[.67,3.48,30],[1.57,3.1,10],[2.07,3.08,15],[2.42,3.27,10],[3.13,3.25,70],[2.7,2.97,50],[2.3,2.61,20],[2.43,2.62,30],[1.95,2.51,15],[1.74,2.43,15],[2.28,2.45,30],[2.12,2.29,50],[1.88,2.14,40],[2.07,2.15,20],[.74,2.13,15],[1.13,2.05,15],[1.36,2.01,30],[1.83,1.99,30],[1.9,1.98,40],[1.56,1.78,40],[1.7,1.83,20],[.43,1.73,12],[.52,1.6,20],[.88,1.7,15],[1.42,1.69,20],[1.14,1.61,20],[1.42,1.5,50],[1.27,1.44,40],[1.13,1.32,50],[1.03,1.29,50],[.56,1.24,20],[.45,1.11,20],[.84,1.08,30],[.91,1.08,40],[.62,.9,30],[.77,.88,40],[.55,.81,40],[.5,.68,50],[.23,.78,20],[.31,.54,50],[.43,.62,15],[.19,.42,15],
[1.42,1.54,30],[1.26,1.44,40],[.88,1.08,30],[.76,.9,30],[.54,.81,30],[.5,.7,30],[.44,.63,25],[.32,.53,40],[.23,.48,30]];
const p2Drone = [[2.74,2.74,30],[2.38,2.32,20],[2.58,2.48,30],[2.22,2.17,30],[2.64,2.01,12],[2.13,1.88,40],[2.8,1.74,10],[1.88,1.79,50],[1.79,1.71,40],[2.02,1.66,20],[1.81,1.57,10],[2.88,1.42,10],[1.7,1.49,50],[2.05,1.49,30],[1.71,1.37,30],[1.7,1.24,30],[1.55,1.31,30],[1.59,1.44,30],[1.45,1.31,30],[1.42,1.28,20],[1.33,1.19,30],[1.31,1.04,40],[1.45,1.08,15],[1.44,1.01,12],[1.41,.92,20],[1.89,1,10],[1.95,.88,20],[2.38,.98,10],[1.45,.8,15],[1.17,.92,40],[.98,.87,40],[1.06,.69,40],[1.13,.73,20],[1.37,.69,15],[1.41,.67,12],[.83,.73,50],[.87,.58,50],[.81,.54,40],[.89,.43,15],[.94,.41,12],[.6,.5,40],[.75,.39,30],[1.69,.51,20],[1.39,.41,12],[1,.28,12],[1.82,.21,12],[2.79,.45,30],[.5,.39,60],[.38,.31,60],[.7,.28,20],
[1.42,1.29,40],[1.37,1.22,40],[1.32,1.18,40],[1.55,1.31,40],[1.6,1.42,30],[1.17,.92,50],[1.12,1.05,30],[.99,.92,40],[.97,.81,40],[.82,.72,40],[1.12,.73,30],[.88,.59,50],[.82,.53,40],[.61,.52,50],[.38,.31,60],[.68,.27,30],[.54,.37,40],[.76,.65,25]];
const p2Rings = [[.67,3.48],[.81,2.53],[2.79,.45]];
const p2FitX = [.23,3.97];
const p2FitY = [.41,3.54];
const p2BandX = [.23,1,2,3,3.97];
const p2BandHigh = [.55,1.09,1.93,2.9,3.79];
const p2BandLow = [.3,1.01,1.85,2.58,3.27];

const p3Queen = [[4.35,4.11,15],[3.62,3.57,30],[3.4,3.3,10],[3.05,2.88,30],[3,2.73,30],[3.09,2.68,10],[3.58,2.75,12],[2.71,2.68,20],[2.63,2.58,20],[2.49,2.48,20],[2.8,2.38,20],[2.73,2.27,12],[2.36,2.31,20],[2.49,2.24,30],[2.23,2.17,20],[2.33,2.14,30],[2.39,2.15,8],[2.11,2.04,30],[2.05,1.89,30],[2.39,1.85,12],[2.3,1.78,12],[2.73,1.8,10],[2.01,1.75,30],[1.9,1.77,20],[1.85,1.57,20],[1.64,1.62,20],[1.83,1.45,12],[1.53,1.44,30],[2.12,1.41,12],[2.46,1.22,8],[1.39,1.25,20],[1.42,1.16,20],[1.26,1.16,20],[1.77,1.15,12],[1.26,.97,8],[1.51,.96,10],[1.21,.86,20],[1.1,.78,20],[2.01,.85,10],[1.38,.76,10],[.94,.82,20],[.79,.6,15],[.74,.72,15],[.68,.4,15],[.97,.4,12],[.68,.28,20],[.72,.32,12],[.4,.29,20],[1.74,.27,6],[.44,.39,20],[.64,.57,20],
[1.65,1.6,40],[1.56,1.44,30],[1.26,1.15,40],[1.39,1.26,40],[.92,.81,40],[.66,.56,30],[.79,.63,25],[.55,.34,30],[.4,.27,40],[.21,.29,30],[1.9,1.87,30],[2.02,1.9,30],[.87,.69,30],[.71,.31,30]];
const p3Worker = [[.82,3.48,15],[2.23,3.27,8],[2.04,3.09,6],[3.24,3.24,50],[2.8,3.08,10],[2.84,2.97,30],[2.1,2.6,15],[2.49,2.61,15],[1.66,2.42,10],[2.33,2.5,10],[2.37,2.43,12],[2.09,2.29,30],[1.9,2.12,20],[2.02,2.14,20],[1.24,2.04,10],[1.56,1.99,15],[1.77,2,15],[1.81,1.96,30],[1.94,1.97,15],[1.66,1.84,30],[1.56,1.77,20],[.32,1.72,15],[.67,1.7,10],[1.28,1.68,15],[1.03,1.61,15],[1.36,1.48,30],[.96,1.28,30],[1.09,1.23,20],[.87,1.2,8],[.54,1.11,15],[.72,1.07,20],[.79,.9,15],[.51,.8,20],[.57,.8,30],[.57,.7,20],[.29,.77,12],[.34,.62,8],[.21,.5,15],[.4,.55,15],[.23,.4,15],
[1.67,1.86,40],[1.56,1.78,30],[1.93,1.99,30],[1.38,1.56,30],[.78,.9,30],[.26,.49,30],[.44,.61,25]];
const p3Drone = [[2.68,2.74,15],[2.39,2.48,10],[2.2,2.3,15],[2.11,2.17,20],[2,2.05,8],[2.22,2,8],[1.83,1.67,20],[1.75,1.77,30],[1.6,1.71,30],[1.47,1.59,30],[1.34,1.48,40],[1.36,1.56,20],[1.21,1.37,50],[1.19,1.24,30],[1.47,1.31,15],[1.71,1.37,15],[1.99,1.41,8],[2.41,1.73,6],[1,1.13,50],[.9,1.02,50],[1.15,1.06,40],[1.42,1.08,15],[1.49,.98,8],[1.3,.97,8],[1,.91,30],[.76,.82,20],[.79,.72,40],[.92,.68,15],[1.23,.79,8],[.42,.6,20],[.57,.42,30],[.79,.52,20],[.82,.44,15],[.81,.35,12],[.55,.34,40],[.4,.29,50],[.27,.22,50],[.42,.19,20],
[1.75,1.79,40],[1.6,1.71,40],[1.49,1.6,40],[1.38,1.48,40],[1.33,1.46,40],[1.22,1.37,50],[1.2,1.27,40],[1.1,1.23,30],[1.01,1.13,40],[.9,1.02,50],[1.14,1.03,40],[1.18,1.02,40],[.99,.91,40],[.72,.75,40],[.78,.73,40],[.61,.52,50],[.47,.41,60],[.54,.44,40],[.37,.31,60],[.43,.25,50],[.51,.34,50],[.32,.25,40],[.57,.48,30],[.65,.57,40],[.73,.67,30],[.8,.72,30],[.79,.81,25],[1.45,1.3,30]];
const p3Rings = [[.82,3.48],[.32,1.72],[1.74,.27]];
const p3FitX = [.23,4.35];
const p3FitY = [.3,3.99];
const p3BandX = [.23,1,2,3,4.35];
const p3BandHigh = [.38,1.02,1.91,2.88,4.17];
const p3BandLow = [.22,.96,1.86,2.7,3.79];

const logTickLabels = ['10','100','1000','10,000'];
const logTickDecades = [1,2,3,4];

/* ---------- helpers ---------- */
const NS = 'http://www.w3.org/2000/svg';
const svg = document.getElementById('fig');
function mk(tag, attrs, parent) {
  const e = document.createElementNS(NS, tag);
  for (const k in attrs) e.setAttribute(k, attrs[k]);
  parent.appendChild(e);
  return e;
}
function txt(str, attrs, parent) {
  const e = mk('text', attrs, parent);
  e.textContent = str;
  return e;
}

/* ---------- panel a ---------- */
const panelA = document.getElementById('panelA');
const yBar = v => 1336 - 0.26425 * v;
const xBar = (group, slot) => 376 + 595.5 * group + 139 * slot;
const barSeries = [['all', barAll, '#66c2a5'], ['down', barDown, '#fc8d62'], ['up', barUp, '#8da0cb']];
barTicks.forEach(t => {
  const tick = mk('line', {x1: 217, x2: 227, y1: yBar(t), y2: yBar(t), stroke: '#111', 'stroke-width': 4}, panelA);
  
  
  const lab = txt(String(t), {x: 197, y: yBar(t) + 14, 'text-anchor': 'end', 'font-size': 46}, panelA);
  
  
});
barCategories.forEach((c, i) => {
  const cx = xBar(i, 1.5);
  const tick = mk('line', {x1: cx, x2: cx, y1: 1392, y2: 1402, stroke: '#111', 'stroke-width': 4}, panelA);
  
  
  const lab = txt(c, {x: cx + 4, y: 1445, 'text-anchor': 'middle', 'font-size': 32}, panelA);
  
  
  barSeries.forEach((s, j) => {
    const v = s[1][i];
    const nudgeX = [[0,0,8],[6,11,3],[6,3,14]][i][j];
    const nudgeY = [[0,0,3],[11,11,20],[14,-11,11]][i][j];
    const bar = mk('rect', {x: xBar(i, j), y: yBar(v), width: 139, height: yBar(0) - yBar(v), fill: s[2]}, panelA);
    
    
    const val = txt(String(v), {x: xBar(i, j) + 69.5 + nudgeX, y: yBar(v) - 38 + nudgeY, 'text-anchor': 'middle', 'font-size': 56}, panelA);
    
    
  });
});

/* ---------- panel b ---------- */
const panelB = document.getElementById('panelB');
const yVol = v => 803 - 42.85 * v;
const groupLeft = i => 2513 + 598 * i;
const xVol = (i, j) => groupLeft(i) + j / 100 * 539;
const axisB1 = mk('line', {x1: 2422, y1: 240, x2: 2422, y2: 1387, stroke: '#111', 'stroke-width': 4}, panelB);


const axisB2 = mk('line', {x1: 2420, y1: 1387, x2: 4336, y2: 1387, stroke: '#111', 'stroke-width': 4}, panelB);


volcanoTicks.forEach(t => {
  const tick = mk('line', {x1: 2412, x2: 2422, y1: yVol(t), y2: yVol(t), stroke: '#111', 'stroke-width': 4}, panelB);
  
  
  const lab = txt((t < 0 ? '\u2212' : '') + Math.abs(t), {x: 2388, y: yVol(t) + 13, 'text-anchor': 'end', 'font-size': 40}, panelB);
  
  
});
volcanoCategories.forEach((c, i) => {
  const cx = groupLeft(i) + 269.5;
  const tick = mk('line', {x1: cx, x2: cx, y1: 1387, y2: 1397, stroke: '#111', 'stroke-width': 4}, panelB);
  
  
  const lab = txt(c, {x: cx - 2, y: 1437, 'text-anchor': 'middle', 'font-size': 32}, panelB);
  
  
  const bg = mk('rect', {x: groupLeft(i), y: yVol(groupMax[i]), width: 539, height: yVol(groupMin[i]) - yVol(groupMax[i]), fill: '#e9e9e9'}, panelB);
  
  
});
const volcanoSeries = [
  [0, g1UpWeak, '#f8c8e0', 'up-weak'], [0, g1Up, '#e8141c', 'up'], [0, g1Down, '#2e7ebc', 'down'], [0, g1DownWeak, '#b5dd4d', 'down-weak'],
  [1, g2UpWeak, '#f8c8e0', 'up-weak'], [1, g2Up, '#e8141c', 'up'], [1, g2Down, '#2e7ebc', 'down'], [1, g2DownWeak, '#b5dd4d', 'down-weak'],
  [2, g3UpWeak, '#f8c8e0', 'up-weak'], [2, g3Up, '#e8141c', 'up'], [2, g3Down, '#2e7ebc', 'down'], [2, g3DownWeak, '#b5dd4d', 'down-weak']
];
volcanoSeries.forEach(s => {
  for (let k = 0; k + 1 < s[1].length; k += 2) {
    const dot = mk('circle', {cx: xVol(s[0], s[1][k]), cy: yVol(s[1][k + 1]), r: 5.8, fill: s[2]}, panelB);
    
    
  }
});
const stripFill = ['#a6dace', '#c9c6e0', '#f9a096'];
const stripTextX = [2801, 3394, 4005];
const stripTextY = [815, 821, 821];
stripLabels.forEach((c, i) => {
  const r = mk('rect', {x: 2482 + 598.7 * i, y: yVol(0.77), width: 598.7, height: yVol(-0.82) - yVol(0.77), fill: stripFill[i], stroke: '#555', 'stroke-width': 2.5}, panelB);
  
  
  const t = txt(c, {x: stripTextX[i], y: stripTextY[i], 'text-anchor': 'middle', 'font-size': 32}, panelB);
  
  
});
function geneLabel(x0, y0, x1, y1, str, size, parent) {
  const g = mk('g', {}, parent);
  
  
  const box = mk('rect', {x: x0, y: y0, width: x1 - x0, height: y1 - y0, rx: 6, fill: '#fff', stroke: '#555', 'stroke-width': 2.5}, g);
  
  
  const t = txt(str, {x: (x0 + x1) / 2, y: (y0 + y1) / 2 + size * 0.34, 'text-anchor': 'middle', 'font-size': size, 'font-style': 'italic'}, g);
  
  
}
geneLabel(2670,395,2872,431,'LOC102655429',27,panelB);
geneLabel(2613,450,2770,485,'LOC726185',27,panelB);
geneLabel(2804,464,2962,500,'LOC726094',27,panelB);
geneLabel(2562,531,2763,567,'LOC102655476',27,panelB);
geneLabel(2794,531,2952,567,'LOC726206',27,panelB);
geneLabel(2693,971,2763,1008,'Vhdl',27,panelB);
geneLabel(2803,973,2863,1009,'Jhe',27,panelB);
geneLabel(2558,1041,2758,1077,'LOC107965367',27,panelB);
geneLabel(2803,1041,3014,1077,'TRNAN\u2212GUU\u22127',27,panelB);
geneLabel(2745,1109,2904,1145,'LOC413908',27,panelB);
geneLabel(3201,272,3360,308,'LOC726206',27,panelB);
geneLabel(3470,282,3671,318,'LOC102655429',27,panelB);
geneLabel(3200,340,3359,376,'LOC726229',27,panelB);
geneLabel(3400,338,3559,374,'LOC726185',27,panelB);
geneLabel(3363,411,3522,446,'LOC726094',27,panelB);
geneLabel(3135,1163,3248,1199,'Fibroin2',27,panelB);
geneLabel(3401,1228,3514,1263,'Fibroin1',27,panelB);
geneLabel(3501,1276,3702,1311,'LOC107964173',27,panelB);
geneLabel(3248,1283,3360,1319,'Fibroin3',27,panelB);
geneLabel(3400,1336,3514,1372,'Fibroin4',27,panelB);
geneLabel(3870,317,3981,353,'Fibroin1',27,panelB);
geneLabel(4081,283,4194,320,'Fibroin4',27,panelB);
geneLabel(4139,365,4249,401,'Fibroin3',27,panelB);
geneLabel(3954,395,4066,431,'Fibroin2',27,panelB);
geneLabel(3816,492,4018,528,'LOC102655889',27,panelB);
geneLabel(4000,955,4085,991,'CPR3',27,panelB);
geneLabel(3946,1007,4147,1042,'LOC102654660',27,panelB);
geneLabel(3757,1047,3957,1083,'LOC100576748',27,panelB);
geneLabel(3797,1106,3846,1142,'Vg',27,panelB);
geneLabel(4054,1088,4256,1124,'LOC100577163',27,panelB);

/* ---------- panel c ---------- */
const panelC = document.getElementById('panelC');
const DRONE = '#1f58a8', QUEEN = '#e92b2f', WORKER = '#3bb1bf';
const defs = mk('defs', {}, svg);
const pick = (list, idx) => list.map(p => p[idx]);
const droneAxisRug = [[pick(p1Drone,0),DRONE],[pick(p1Queen,0),QUEEN],[pick(p1Worker,0),WORKER],[pick(p2Drone,0),DRONE],[pick(p2Queen,0),QUEEN],[pick(p2Worker,0),WORKER]];
const queenAxisRug = [[pick(p1Drone,1),DRONE],[pick(p1Queen,1),QUEEN],[pick(p1Worker,1),WORKER],[pick(p3Drone,0),DRONE],[pick(p3Queen,0),QUEEN],[pick(p3Worker,0),WORKER]];
const workerAxisRug = [[pick(p2Drone,1),DRONE],[pick(p2Queen,1),QUEEN],[pick(p2Worker,1),WORKER],[pick(p3Drone,1),DRONE],[pick(p3Queen,1),QUEEN],[pick(p3Worker,1),WORKER]];

function drawScatter(cfg) {
  const g = mk('g', {}, panelC);
  
  
  const sx = v => cfg.x10 + (v - 1) * cfg.dx;
  const sy = v => cfg.y10 - (v - 1) * cfg.dy;
  const clip = mk('clipPath', {id: 'clip-' + cfg.name}, defs);
  mk('rect', {x: cfg.l, y: 2023, width: cfg.r - cfg.l, height: 3048 - 2023}, clip);
  const inner = mk('g', {'clip-path': 'url(#clip-' + cfg.name + ')'}, g);
  
  
  cfg.rugX.forEach(s => s[0].forEach(v => {
    const ln = mk('line', {x1: sx(v), x2: sx(v), y1: 3023, y2: 3048, stroke: s[1], 'stroke-opacity': .6, 'stroke-width': 3}, inner);
    
    
  }));
  cfg.rugY.forEach(s => s[0].forEach(v => {
    const ln = mk('line', {x1: cfg.l, x2: cfg.l + 27, y1: sy(v), y2: sy(v), stroke: s[1], 'stroke-opacity': .6, 'stroke-width': 3}, inner);
    
    
  }));
  cfg.series.forEach(s => s[0].forEach(p => {
    const dot = mk('circle', {cx: sx(p[0]), cy: sy(p[1]), r: 2 + 2.4 * Math.sqrt(p[2]), fill: s[1], 'fill-opacity': .75}, inner);
    
    
  }));
  let bandD = '';
  cfg.bandX.forEach((v, i) => { bandD += (i ? 'L' : 'M') + sx(v) + ' ' + sy(cfg.bandHigh[i]); });
  for (let i = cfg.bandX.length - 1; i >= 0; i--) bandD += 'L' + sx(cfg.bandX[i]) + ' ' + sy(cfg.bandLow[i]);
  const band = mk('path', {d: bandD + 'Z', fill: '#f5c9b8', 'fill-opacity': .5}, inner);
  
  
  const dash = mk('line', {x1: sx(cfg.identity[0]), y1: sy(cfg.identity[0]), x2: sx(cfg.identity[1]), y2: sy(cfg.identity[1]), stroke: '#999', 'stroke-width': 5.5, 'stroke-dasharray': '26 16'}, inner);
  
  
  const fit = mk('line', {x1: sx(cfg.fitX[0]), y1: sy(cfg.fitY[0]), x2: sx(cfg.fitX[1]), y2: sy(cfg.fitY[1]), stroke: '#c8432e', 'stroke-width': 7}, inner);
  
  
  cfg.rings.forEach(p => {
    const ring = mk('circle', {cx: sx(p[0]), cy: sy(p[1]), r: 17, fill: 'none', stroke: '#111', 'stroke-width': 4}, g);
    
    
  });
  for (let d = 0; d < 5; d++) for (let m = 1; m < 10; m++) {
    const v = d + Math.log10(m);
    const len = m === 1 ? 42 : (m === 5 ? 28 : 13);
    if (sx(v) > cfg.l && sx(v) < cfg.r) {
      const tk = mk('line', {x1: sx(v), x2: sx(v), y1: 3048 - len, y2: 3048 + (m === 1 ? 8 : 0), stroke: '#333', 'stroke-width': 2}, g);
      
      
    }
    if (sy(v) > 2023 && sy(v) < 3048) {
      const tk = mk('line', {x1: cfg.l - (m === 1 ? 8 : 0), x2: cfg.l + len, y1: sy(v), y2: sy(v), stroke: '#333', 'stroke-width': 2}, g);
      
      
    }
  }
  const frame = mk('rect', {x: cfg.l, y: 2023, width: cfg.r - cfg.l, height: 3048 - 2023, fill: 'none', stroke: '#111', 'stroke-width': 5}, g);
  
  
  logTickDecades.forEach((d, i) => {
    const a = txt(logTickLabels[i], {x: sx(d) + 10, y: 3090, 'text-anchor': 'middle', 'font-size': 37}, g);
    
    
    const b = txt(logTickLabels[i], {x: cfg.l - 14, y: sy(d) + cfg.labelDy, 'text-anchor': 'end', 'font-size': 37}, g);
    
    
  });
  const statBox = mk('rect', {x: cfg.stat[0], y: 2023, width: cfg.stat[1], height: cfg.stat[2], rx: 4, fill: '#fff', 'fill-opacity': .75, stroke: '#666', 'stroke-width': 2.5}, g);
  
  
  const r1 = txt(cfg.rText, {x: cfg.stat[0] + cfg.stat[6], y: cfg.stat[3], 'font-size': cfg.stat[5]}, g);
  
  
  const r2 = txt('p < 0.001', {x: cfg.stat[0] + cfg.stat[6], y: cfg.stat[4], 'font-size': cfg.stat[5]}, g);
  
  
  return g;
}

const s1 = drawScatter({name:'scatter-queen-vs-drone', l:195, r:1221, x10:424, dx:262.6, y10:2843, dy:238.7, labelDy:19,
  series:[[p1Worker,WORKER,'worker'],[p1Drone,DRONE,'drone'],[p1Queen,QUEEN,'queen']], rings:p1Rings,
  rugX:droneAxisRug, rugY:queenAxisRug, fitX:p1FitX, fitY:p1FitY, bandX:p1BandX, bandHigh:p1BandHigh, bandLow:p1BandLow, identity:[.2,4.04],
  stat:[232,188,114,2068,2130,43,-3], rText:'R = 0.857'});
const s2 = drawScatter({name:'scatter-worker-vs-drone', l:1641, r:2668, x10:1871, dx:262.6, y10:2829, dy:252.5, labelDy:14,
  series:[[p2Worker,WORKER,'worker'],[p2Drone,DRONE,'drone'],[p2Queen,QUEEN,'queen']], rings:p2Rings,
  rugX:droneAxisRug, rugY:workerAxisRug, fitX:p2FitX, fitY:p2FitY, bandX:p2BandX, bandHigh:p2BandHigh, bandLow:p2BandLow, identity:[.13,4.04],
  stat:[1681,176,100,2060,2117,40,5], rText:'R = 0.776'});
const s3 = drawScatter({name:'scatter-worker-vs-queen', l:3087, r:4115, x10:3292, dx:239.5, y10:2831, dy:246.3, labelDy:10,
  series:[[p3Worker,WORKER,'worker'],[p3Drone,DRONE,'drone'],[p3Queen,QUEEN,'queen']], rings:p3Rings,
  rugX:queenAxisRug, rugY:workerAxisRug, fitX:p3FitX, fitY:p3FitY, bandX:p3BandX, bandHigh:p3BandHigh, bandLow:p3BandLow, identity:[.15,4.28],
  stat:[3126,187,100,2058,2117,43,7], rText:'R = 0.883'});

geneLabel(522,2283,768,2322,'LOC100576540',37,s1);
geneLabel(317,2399,564,2443,'LOC100576271',37,s1);
geneLabel(855,2830,1051,2869,'LOC410452',37,s1);
geneLabel(1767,2143,1909,2183,'Fibroin1',37,s2);
geneLabel(1763,2383,2011,2426,'LOC100576271',37,s2);
geneLabel(2302,2909,2496,2950,'LOC410452',37,s2);
geneLabel(3171,2237,3308,2279,'Fibroin1',37,s3);
geneLabel(3125,2591,3319,2633,'LOC725254',37,s3);
geneLabel(3479,2948,3537,2995,'Vg',37,s3);
</script>
</body>
</html>
